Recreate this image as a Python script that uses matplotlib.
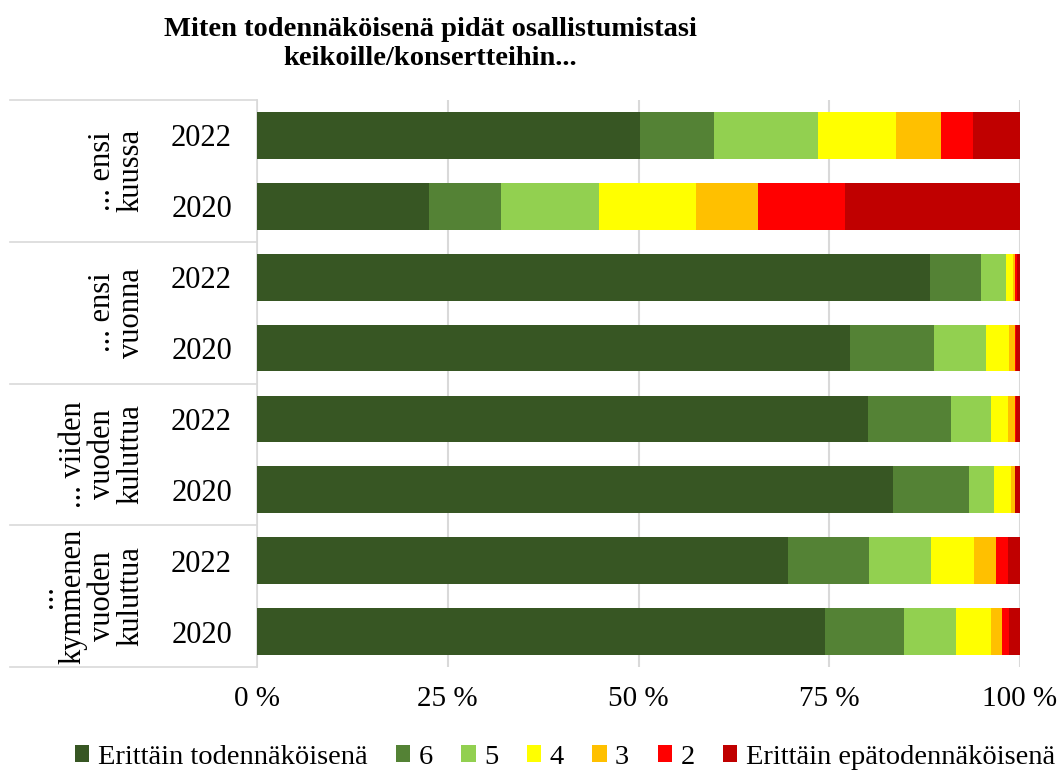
import numpy as np
import matplotlib
matplotlib.use("Agg")
import matplotlib.pyplot as plt

plt.rcParams['font.family'] = ['Liberation Serif', 'DejaVu Serif']

# ryhmät ja vuodet (ylhäältä alas)
ryhmat = ["... ensi\nkuussa", "... ensi\nvuonna", "... viiden\nvuoden\nkuluttua",
          "...\nkymmenen\nvuoden\nkuluttua"]
vuodet = ["2022", "2020", "2022", "2020", "2022", "2020", "2022", "2020"]

luokat = ["Erittäin todennäköisenä", "6", "5", "4", "3", "2", "Erittäin epätodennäköisenä"]
varit = ["#375623", "#548235", "#92D050", "#FFFF00", "#FFC000", "#FF0000", "#C00000"]

# osuudet (%) jokaiselle palkille
erittain_tod = [50.2, 22.5, 88.2, 77.7, 80.1, 83.4, 69.6, 74.5]
kuusi = [9.7, 9.5, 6.7, 11.0, 10.9, 9.9, 10.6, 10.3]
viisi = [13.6, 12.8, 3.3, 6.8, 5.2, 3.3, 8.1, 6.8]
nelja = [10.3, 12.7, 0.9, 3.0, 2.2, 2.2, 5.7, 4.6]
kolme = [5.9, 8.2, 0.3, 0.8, 0.9, 0.5, 2.9, 1.4]
kaksi = [4.1, 11.4, 0.2, 0.2, 0.2, 0.1, 1.5, 1.0]
erittain_epa = [6.2, 22.9, 0.4, 0.5, 0.5, 0.6, 1.6, 1.4]

sarjat = [erittain_tod, kuusi, viisi, nelja, kolme, kaksi, erittain_epa]

fig = plt.figure(figsize=(10.6, 7.73), dpi=100)
ax = fig.add_axes([257 / 1060, 1 - 667 / 773, 763 / 1060, 567 / 773])

y = np.arange(len(vuodet))
vasen = np.zeros(len(vuodet))
for nimi, arvot, vari in zip(luokat, sarjat, varit):
    ax.barh(y, arvot, left=vasen, height=0.66, color=vari, label=nimi, zorder=3)
    vasen += np.array(arvot)

ax.set_xlim(0, 100)
ax.set_ylim(len(vuodet) - 0.5, -0.5)
ax.set_xticks([0, 25, 50, 75, 100])
ax.set_xticklabels(["0 %", "25 %", "50 %", "75 %", "100 %"], fontsize=21)
ax.set_yticks(y)
ax.set_yticklabels(vuodet, fontsize=22)
ax.tick_params(axis='y', length=0, pad=18)
ax.tick_params(axis='x', length=0, pad=14)
ax.grid(axis='x', color='#d9d9d9', linewidth=1.5, zorder=0)
for s in ['top', 'right', 'bottom']:
    ax.spines[s].set_visible(False)
ax.spines['left'].set_color('#d9d9d9')
ax.spines['left'].set_linewidth(1.2)

# ryhmien erotinviivat ja nimet
tr = ax.get_yaxis_transform()
for raja in [-0.5, 1.5, 3.5, 5.5, 7.5]:
    ax.plot([-0.3237, 0], [raja, raja], color='#d9d9d9', linewidth=1.2,
            transform=tr, clip_on=False)
for i, nimi in enumerate(ryhmat):
    ax.text(-0.146, 2 * i + 0.5, nimi, transform=tr, rotation=90, ha='right',
            va='center', multialignment='center', fontsize=22, linespacing=1.0)

fig.text(430 / 1060, 1 - 44 / 773,
         "Miten todennäköisenä pidät osallistumistasi\nkeikoille/konsertteihin...",
         ha='center', va='center', fontsize=20.5, fontweight='bold', linespacing=1.25)

fig.legend(loc='center', bbox_to_anchor=(565 / 1060, 1 - 757 / 773), ncol=7,
           frameon=False, fontsize=20.5, handlelength=0.5, handleheight=0.5,
           handletextpad=0.3, columnspacing=1.0)

fig.savefig("out.png", dpi=100)
